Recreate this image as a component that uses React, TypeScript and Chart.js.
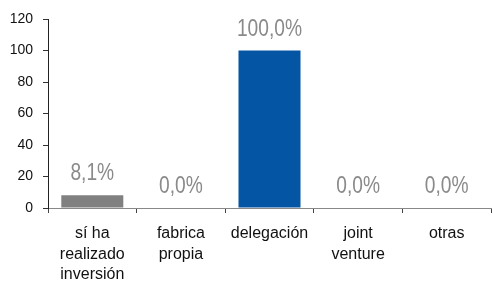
import React, { useEffect, useRef } from "react";
import { Chart, registerables } from "chart.js";

Chart.register(...registerables);

const categories: string[][] = [
  ["sí ha", "realizado", "inversión"],
  ["fabrica", "propia"],
  ["delegación"],
  ["joint", "venture"],
  ["otras"],
];
const values: number[] = [8.1, 0, 100, 0, 0];
const valueLabels: string[] = ["8,1%", "0,0%", "100,0%", "0,0%", "0,0%"];
const barColors: string[] = ["#808080", "#808080", "#0455A4", "#808080", "#808080"];
const yTicks: number[] = [0, 20, 40, 60, 80, 100, 120];

const FONT = "'Liberation Sans', Arial, sans-serif";

const labelPlugin = {
  id: "valueLabels",
  afterDatasetsDraw(chart: any) {
    const ctx = chart.ctx;
    const meta = chart.getDatasetMeta(0);
    meta.data.forEach((bar: any, i: number) => {
      ctx.save();
      ctx.font = `24px ${FONT}`;
      ctx.fillStyle = "#8a8a8a";
      ctx.textAlign = "center";
      ctx.textBaseline = "alphabetic";
      ctx.translate(bar.x, bar.y - 15);
      ctx.scale(0.8, 1);
      ctx.fillText(valueLabels[i], 0, 0);
      ctx.restore();
    });
  },
};

export default function App() {
  const ref = useRef<HTMLCanvasElement>(null);
  useEffect(() => {
    if (!ref.current) return;
    const chart = new Chart(ref.current, {
      type: "bar",
      data: {
        labels: categories,
        datasets: [
          {
            data: values,
            backgroundColor: barColors,
            borderWidth: 0,
            barPercentage: 0.7,
            categoryPercentage: 1,
          },
        ],
      },
      options: {
        animation: false,
        responsive: true,
        maintainAspectRatio: false,
        layout: { padding: { top: 19, right: 2, left: 0, bottom: 0 } },
        plugins: { legend: { display: false }, tooltip: { enabled: false } },
        scales: {
          x: {
            grid: {
              display: true,
              drawOnChartArea: false,
              drawTicks: true,
              tickLength: 5,
              color: "#444",
              offset: true,
            },
            border: { color: "#888", width: 1 },
            ticks: {
              color: "#111",
              font: { family: FONT, size: 16, lineHeight: 1.3 },
              padding: 10,
              maxRotation: 0,
              autoSkip: false,
            },
            afterFit(scale: any) {
              scale.height = 76;
            },
          },
          y: {
            min: 0,
            max: 120,
            afterBuildTicks(scale: any) {
              scale.ticks = yTicks.map((v) => ({ value: v }));
            },
            grid: {
              display: true,
              drawOnChartArea: false,
              drawTicks: true,
              tickLength: 5,
              color: "#333",
            },
            border: { color: "#222", width: 1 },
            ticks: {
              color: "#111",
              font: { family: FONT, size: 14 },
              padding: 10,
            },
            afterFit(scale: any) {
              scale.width = 48;
            },
          },
        },
      },
      plugins: [labelPlugin],
    });
    return () => chart.destroy();
  }, []);
  return (
    <div style={{ position: "fixed", left: 0, top: 0, width: 493, height: 284, background: "#fff" }}>
      <canvas ref={ref} />
    </div>
  );
}
